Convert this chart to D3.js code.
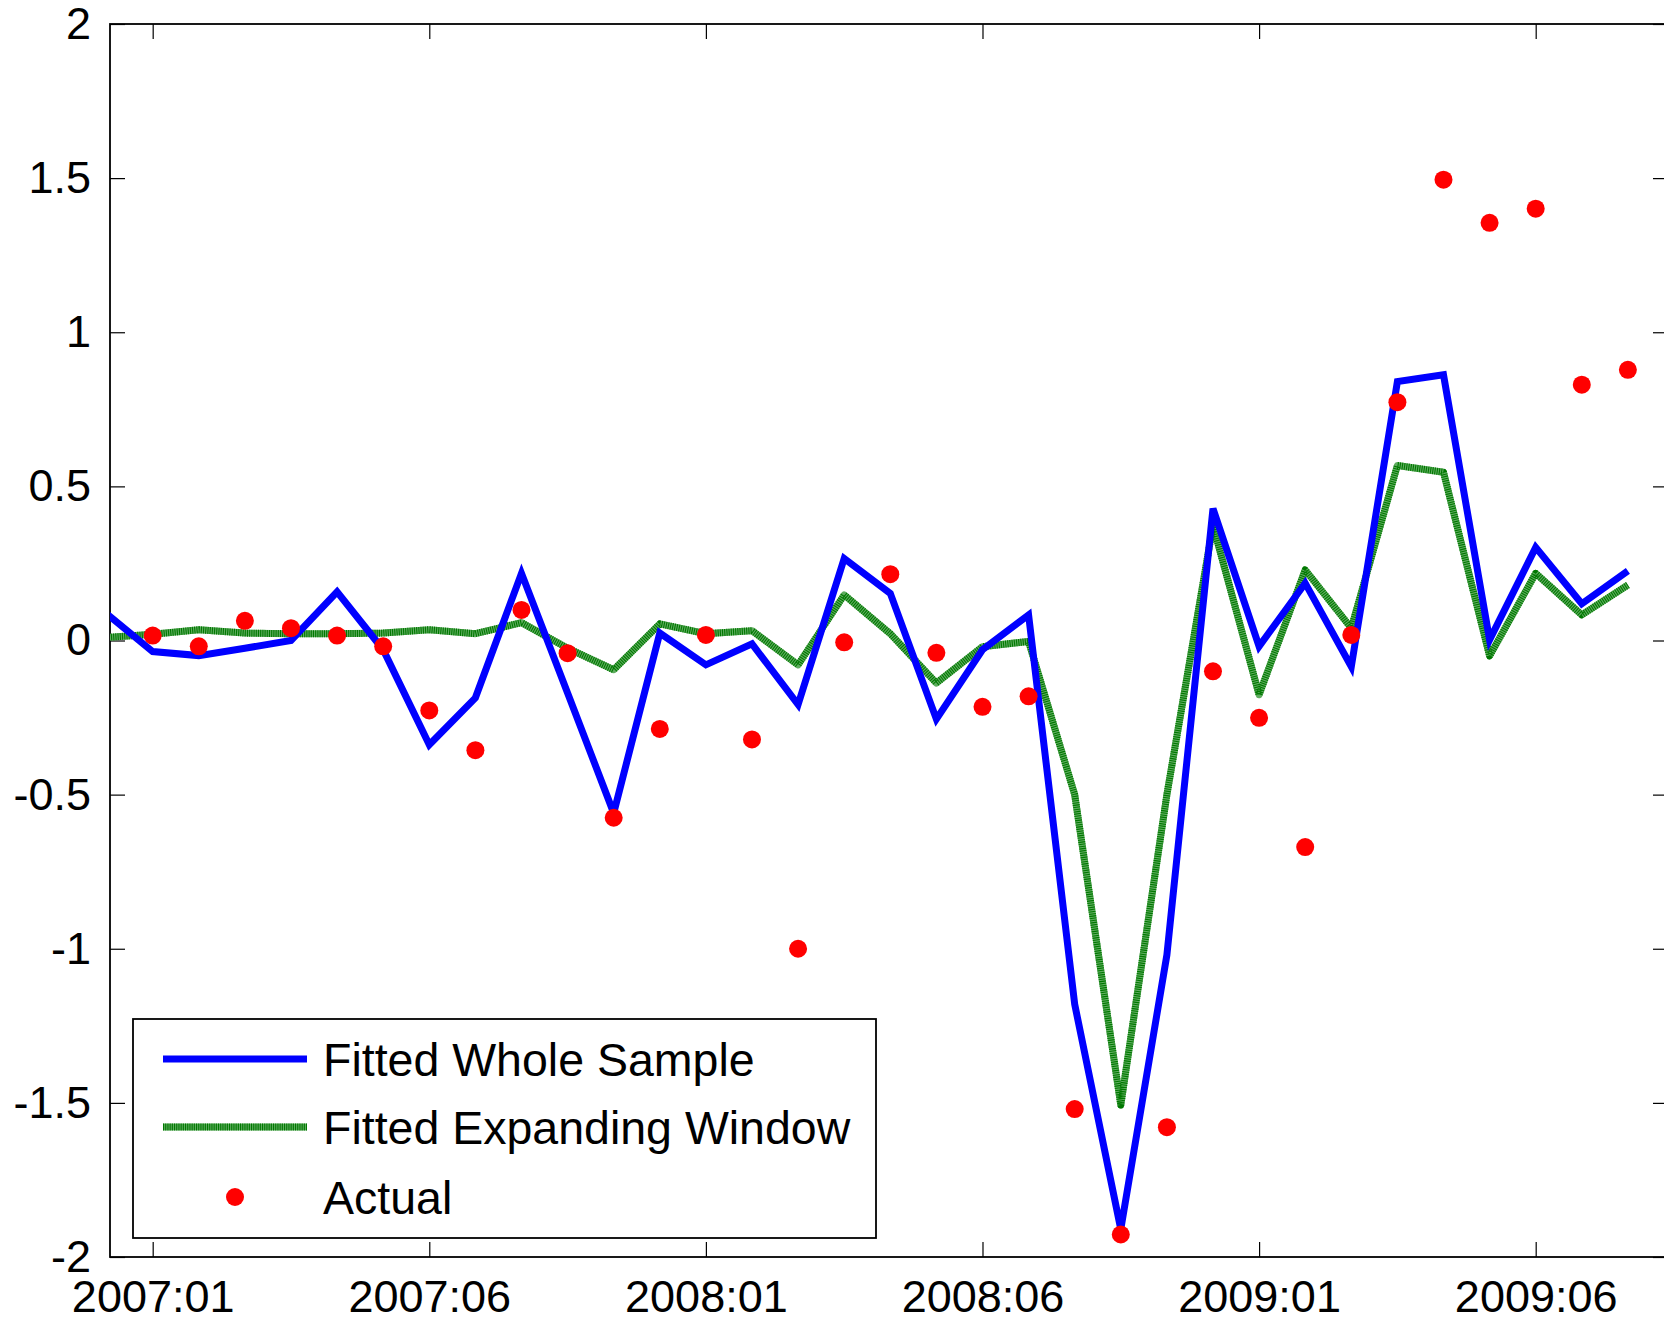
<!DOCTYPE html>
<html>
<head>
<meta charset="utf-8">
<script src="https://cdn.jsdelivr.net/npm/d3@7"></script>
<style>
  body { margin: 0; background: #fff; }
  svg text { font-family: "Liberation Sans", Arial, Helvetica, sans-serif; fill: #000; }
</style>
</head>
<body>
<div id="chart"></div>
<script>
// Fitted vs actual: monthly series, whole-sample fit vs expanding-window fit.
// Index -1 is only there so the lines run into the left axis (clipped).

// -------------------------------------------------------------
// Data
// -------------------------------------------------------------
const monthIndex = d3.range(-1, 33);   // -1 .. 32

const fittedWhole = [
  0.087, -0.036, -0.049, -0.025, 0.000, 0.158, -0.030, -0.338, -0.186, 0.218,
  -0.170, -0.560, 0.024, -0.079, -0.011, -0.208, 0.266, 0.153, -0.255, -0.030,
  0.083, -1.180, -1.910, -1.020, 0.428, -0.019, 0.186, -0.085, 0.840, 0.862,
  0.002, 0.302, 0.119, 0.226
];

const fittedExpanding = [
  0.010, 0.020, 0.035, 0.024, 0.022, 0.022, 0.024, 0.035, 0.022, 0.058,
  -0.025, -0.095, 0.054, 0.022, 0.032, -0.079, 0.148, 0.022, -0.138, -0.020,
  -0.003, -0.500, -1.507, -0.500, 0.374, -0.176, 0.229, 0.040, 0.568, 0.546,
  -0.050, 0.218, 0.083, 0.180
];

// actuals start at index 0
const actualIndex = d3.range(0, 33);
const actual = [
  0.016, -0.019, 0.064, 0.040, 0.016, -0.019, -0.227, -0.356, 0.099, -0.041,
  -0.575, -0.287, 0.018, -0.321, -1.000, -0.006, 0.215, -0.040, -0.215, -0.181,
  -1.520, -1.927, -1.579, -0.100, -0.251, -0.670, 0.018, 0.773, 1.495, 1.355,
  1.401, 0.830, 0.878
];

const xTickIndex = [0, 6, 12, 18, 24, 30];
const xTickLabels = ["2007:01", "2007:06", "2008:01", "2008:06", "2009:01", "2009:06"];
const yTicks = [-2, -1.5, -1, -0.5, 0, 0.5, 1, 1.5, 2];

const legendLabels = ["Fitted Whole Sample", "Fitted Expanding Window", "Actual"];

// -------------------------------------------------------------
// Layout
// -------------------------------------------------------------
const W = 1664, H = 1319;
const plot = { left: 110, right: 1668, top: 24, bottom: 1257 };
const TICK = 15;
const BLUE = "#0000ff", GREEN = "#007800", GREEN_LIGHT = "#5fac5f", RED = "#ff0000";

const svg = d3.select("#chart").append("svg")
  .attr("width", W)
  .attr("height", H);

const x = d3.scaleLinear()
  .domain([-0.926, 32.87])
  .range([plot.left, plot.right]);

const y = d3.scaleLinear()
  .domain([-2, 2])
  .range([plot.bottom, plot.top]);

svg.append("clipPath")
  .attr("id", "plotClip")
  .append("rect")
  .attr("x", plot.left)
  .attr("y", plot.top)
  .attr("width", plot.right - plot.left)
  .attr("height", plot.bottom - plot.top);

// -------------------------------------------------------------
// Axes box + inward ticks (matlab style)
// -------------------------------------------------------------
const axisG = svg.append("g");

axisG.append("rect")
  .attr("x", plot.left)
  .attr("y", plot.top)
  .attr("width", plot.right - plot.left)
  .attr("height", plot.bottom - plot.top)
  .attr("fill", "none")
  .attr("stroke", "#000")
  .attr("stroke-width", 1.8);

// inner ticks are negative, so padding is measured from the axis line itself
const bottomAxis = d3.axisBottom(x)
  .tickValues(xTickIndex)
  .tickSizeInner(-TICK)
  .tickSizeOuter(0)
  .tickPadding(23)
  .tickFormat((d, i) => xTickLabels[i]);

const gx = axisG.append("g")
  .attr("transform", `translate(0,${plot.bottom})`)
  .call(bottomAxis);
gx.select(".domain").remove();
gx.selectAll("line").attr("stroke", "#000").attr("stroke-width", 1.2);
gx.selectAll("text").attr("font-size", 45);

const topAxis = d3.axisTop(x)
  .tickValues(xTickIndex)
  .tickSizeInner(-TICK)
  .tickSizeOuter(0)
  .tickFormat("");
const gxt = axisG.append("g")
  .attr("transform", `translate(0,${plot.top})`)
  .call(topAxis);
gxt.select(".domain").remove();
gxt.selectAll("line").attr("stroke", "#000").attr("stroke-width", 1.2);

const leftAxis = d3.axisLeft(y)
  .tickValues(yTicks)
  .tickSizeInner(-TICK)
  .tickSizeOuter(0)
  .tickPadding(19)
  .tickFormat(d => String(d));
const gy = axisG.append("g")
  .attr("transform", `translate(${plot.left},0)`)
  .call(leftAxis);
gy.select(".domain").remove();
gy.selectAll("line").attr("stroke", "#000").attr("stroke-width", 1.2);
gy.selectAll("text").attr("font-size", 45);

const rightAxis = d3.axisRight(y)
  .tickValues(yTicks)
  .tickSizeInner(-TICK)
  .tickSizeOuter(0)
  .tickFormat("");
const gyr = axisG.append("g")
  .attr("transform", `translate(${plot.right},0)`)
  .call(rightAxis);
gyr.select(".domain").remove();
gyr.selectAll("line").attr("stroke", "#000").attr("stroke-width", 1.2);

// -------------------------------------------------------------
// Series
// -------------------------------------------------------------
const dataG = svg.append("g").attr("clip-path", "url(#plotClip)");

const line = d3.line()
  .x(d => x(d[0]))
  .y(d => y(d[1]));

const wholePts = monthIndex.map((m, i) => [m, fittedWhole[i]]);
const expPts = monthIndex.map((m, i) => [m, fittedExpanding[i]]);

// dotted green: light base + dense dark dashes on top
dataG.append("path")
  .attr("d", line(expPts))
  .attr("fill", "none")
  .attr("stroke", GREEN_LIGHT)
  .attr("stroke-width", 7)
  .attr("stroke-linejoin", "round");

dataG.append("path")
  .attr("d", line(expPts))
  .attr("fill", "none")
  .attr("stroke", GREEN)
  .attr("stroke-width", 7)
  .attr("stroke-dasharray", "1.1,1.1")
  .attr("stroke-linejoin", "round");

dataG.append("path")
  .attr("d", line(wholePts))
  .attr("fill", "none")
  .attr("stroke", BLUE)
  .attr("stroke-width", 7)
  .attr("stroke-linejoin", "miter");

dataG.selectAll("circle.actual")
  .data(actualIndex.map((m, i) => [m, actual[i]]))
  .join("circle")
  .attr("class", "actual")
  .attr("cx", d => x(d[0]))
  .attr("cy", d => y(d[1]))
  .attr("r", 9)
  .attr("fill", RED);

// -------------------------------------------------------------
// Legend
// -------------------------------------------------------------
const legend = svg.append("g");

legend.append("rect")
  .attr("x", 133)
  .attr("y", 1019)
  .attr("width", 743)
  .attr("height", 219)
  .attr("fill", "#fff")
  .attr("stroke", "#000")
  .attr("stroke-width", 1.8);

const rowY = [1059, 1127, 1197];
const swatch = { x0: 163, x1: 307 };

legend.append("line")
  .attr("x1", swatch.x0).attr("x2", swatch.x1)
  .attr("y1", rowY[0]).attr("y2", rowY[0])
  .attr("stroke", BLUE)
  .attr("stroke-width", 7);

legend.append("line")
  .attr("x1", swatch.x0).attr("x2", swatch.x1)
  .attr("y1", rowY[1]).attr("y2", rowY[1])
  .attr("stroke", GREEN_LIGHT)
  .attr("stroke-width", 7);
legend.append("line")
  .attr("x1", swatch.x0).attr("x2", swatch.x1)
  .attr("y1", rowY[1]).attr("y2", rowY[1])
  .attr("stroke", GREEN)
  .attr("stroke-width", 7)
  .attr("stroke-dasharray", "1.1,1.1");

legend.append("circle")
  .attr("cx", (swatch.x0 + swatch.x1) / 2)
  .attr("cy", rowY[2])
  .attr("r", 9)
  .attr("fill", RED);

legend.selectAll("text.lbl")
  .data(legendLabels)
  .join("text")
  .attr("class", "lbl")
  .attr("x", 323)
  .attr("y", (d, i) => rowY[i])
  .attr("dy", "0.36em")
  .attr("font-size", 46.5)
  .text(d => d);
</script>
</body>
</html>
